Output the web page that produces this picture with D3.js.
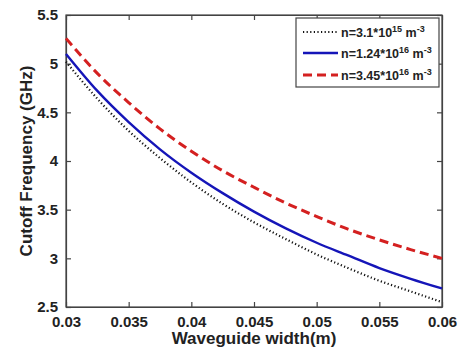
<!DOCTYPE html>
<html><head><meta charset="utf-8">
<script src="https://cdn.jsdelivr.net/npm/d3@7"></script>
<style>body{margin:0;background:#fff}svg{display:block}</style>
</head><body>
<script>
const widths = [0.03,0.0325,0.035,0.0375,0.04,0.0425,0.045,0.0475,0.05,0.0525,0.055,0.0575,0.06];
const freqLow  = [5.02,4.64,4.31,4.03,3.78,3.56,3.37,3.20,3.04,2.90,2.77,2.66,2.55];
const freqMid  = [5.10,4.72,4.40,4.12,3.88,3.67,3.48,3.31,3.16,3.03,2.90,2.79,2.69];
const freqHigh = [5.26,4.90,4.60,4.33,4.10,3.90,3.73,3.57,3.43,3.30,3.19,3.09,3.00];
const seriesNames = [["n=3.1*10","15"],["n=1.24*10","16"],["n=3.45*10","16"]];
const xTicks = [0.03,0.035,0.04,0.045,0.05,0.055,0.06];
const yTicks = [2.5,3,3.5,4,4.5,5,5.5];

const W=458,H=352, L=66,R=442,T=15,B=307;
const svg=d3.select("body").append("svg").attr("width",W).attr("height",H);
const x=d3.scaleLinear().domain([0.03,0.06]).range([L,R]);
const y=d3.scaleLinear().domain([2.5,5.5]).range([B,T]);
const axisColor="#444";
const font="Liberation Sans, Arial, sans-serif";

// axes
const gx=svg.append("g").attr("transform",`translate(0,${B})`)
  .call(d3.axisBottom(x).tickValues(xTicks).tickSizeInner(-5).tickSizeOuter(0).tickPadding(9).tickFormat(d3.format("")));
const gxt=svg.append("g").attr("transform",`translate(0,${T})`)
  .call(d3.axisTop(x).tickValues(xTicks).tickSizeInner(-5).tickSizeOuter(0).tickFormat(""));
const gy=svg.append("g").attr("transform",`translate(${L},0)`)
  .call(d3.axisLeft(y).tickValues(yTicks).tickSizeInner(-5).tickSizeOuter(0).tickPadding(8).tickFormat(d3.format("")));
const gyr=svg.append("g").attr("transform",`translate(${R},0)`)
  .call(d3.axisRight(y).tickValues(yTicks).tickSizeInner(-5).tickSizeOuter(0).tickFormat(""));
[gx,gxt,gy,gyr].forEach(g=>{
  g.selectAll("path,line").attr("stroke",axisColor).attr("stroke-width",1.2);
  g.selectAll("text").attr("fill","#222").attr("font-family",font).attr("font-weight","bold").attr("font-size",15);
});
svg.append("rect").attr("x",L).attr("y",T).attr("width",R-L).attr("height",B-T)
  .attr("fill","none").attr("stroke",axisColor).attr("stroke-width",1.2);

// lines
const line=(vals)=>d3.line().x((d,i)=>x(widths[i])).y(d=>y(d)).curve(d3.curveMonotoneX)(vals);
const styles=[
  {vals:freqLow,color:"#111",w:2.2,dash:"1.2,2.4"},
  {vals:freqMid,color:"#1515b8",w:2.4,dash:null},
  {vals:freqHigh,color:"#d42020",w:3,dash:"9,5"}
];
styles.forEach(s=>{
  svg.append("path").attr("d",line(s.vals)).attr("fill","none").attr("stroke",s.color)
    .attr("stroke-width",s.w).attr("stroke-dasharray",s.dash);
});

// legend
const lg=svg.append("g");
lg.append("rect").attr("x",296).attr("y",18).attr("width",143).attr("height",69)
  .attr("fill","#fff").attr("stroke",axisColor).attr("stroke-width",1.2);
const ly=[32,53,75];
styles.forEach((s,i)=>{
  lg.append("line").attr("x1",303).attr("x2",338).attr("y1",ly[i]).attr("y2",ly[i])
    .attr("stroke",s.color).attr("stroke-width",s.w).attr("stroke-dasharray",s.dash);
  const t=lg.append("text").attr("x",341).attr("y",ly[i]+4.5).attr("font-family",font)
    .attr("font-weight","bold").attr("font-size",12.5).attr("fill","#222");
  t.append("tspan").text(seriesNames[i][0]);
  t.append("tspan").attr("dy",-5).attr("font-size",9).text(seriesNames[i][1]);
  t.append("tspan").attr("dy",5).text(" m");
  t.append("tspan").attr("dy",-5).attr("font-size",9).text("-3");
});

// titles
svg.append("text").attr("x",(L+R)/2).attr("y",344).attr("text-anchor","middle")
  .attr("font-family",font).attr("font-weight","bold").attr("font-size",17).attr("fill","#222")
  .text("Waveguide width(m)");
svg.append("text").attr("transform",`translate(32,${(T+B)/2}) rotate(-90)`).attr("text-anchor","middle")
  .attr("font-family",font).attr("font-weight","bold").attr("font-size",17).attr("fill","#222")
  .text("Cutoff Frequency (GHz)");
</script>
</body></html>
